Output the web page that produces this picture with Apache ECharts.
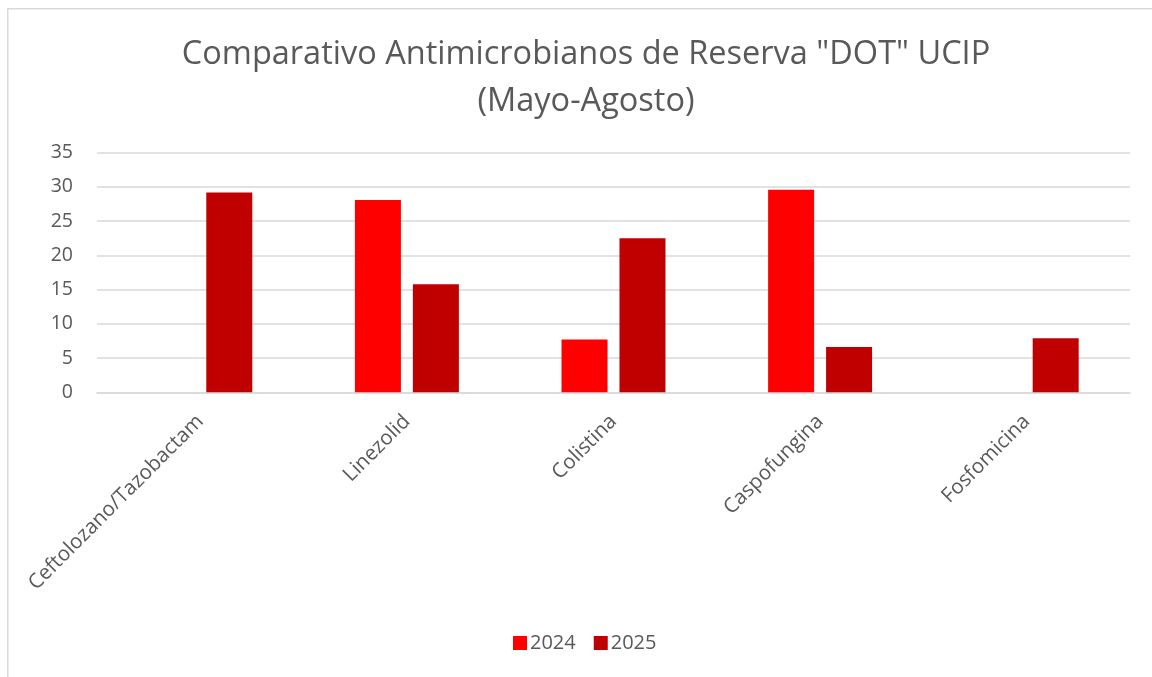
<!DOCTYPE html>
<html>
<head>
<meta charset="utf-8">
<script src="https://cdn.jsdelivr.net/npm/echarts@6/dist/echarts.min.js"></script>
<style>
html,body{margin:0;padding:0;background:#fff;}
#chart{width:1152px;height:677px;}
</style>
</head>
<body>
<div id="chart"></div>
<script>
const categories = ['Ceftolozano/Tazobactam', 'Linezolid', 'Colistina', 'Caspofungina', 'Fosfomicina'];
const seriesNames = ['2024', '2025'];
const values2024 = [0, 28.1, 7.7, 29.6, 0];
const values2025 = [29.2, 15.8, 22.5, 6.6, 7.9];
const titleLines = ['Comparativo Antimicrobianos de Reserva "DOT" UCIP', '(Mayo-Agosto)'];
const yTicks = { min: 0, max: 35, interval: 5 };

const FONT = 'Open Sans';
const TEXT = '#595959';
const chart = echarts.init(document.getElementById('chart'), null, { renderer: 'canvas' });
chart.setOption({
  animation: false,
  backgroundColor: '#ffffff',
  graphic: [{
    type: 'rect', left: 7, top: 8, z: -10,
    shape: { width: 1200, height: 720 },
    style: { fill: '#ffffff', stroke: '#d9d9d9', lineWidth: 1.5 }
  }],
  title: {
    text: titleLines.join('\n'),
    left: 581, top: 26, textAlign: 'center',
    textStyle: { fontFamily: FONT, fontSize: 32.5, fontWeight: 'normal', color: TEXT, lineHeight: 47 }
  },
  legend: {
    data: seriesNames,
    left: 508, top: 628,
    itemWidth: 14, itemHeight: 14, itemGap: 18,
    icon: 'rect',
    textStyle: { fontFamily: FONT, fontSize: 20, color: TEXT, padding: [0, 0, 0, -2] }
  },
  grid: { left: 97, right: 22, top: 152.7, bottom: 284.7, containLabel: false },
  xAxis: {
    type: 'category',
    data: categories,
    axisLine: { show: true, lineStyle: { color: '#d9d9d9', width: 1.5 } },
    axisTick: { show: false },
    axisLabel: { rotate: 45, margin: 26, interval: 0, fontFamily: FONT, fontSize: 20.5, color: TEXT }
  },
  yAxis: {
    type: 'value',
    min: yTicks.min, max: yTicks.max, interval: yTicks.interval,
    axisLine: { show: false },
    axisTick: { show: false },
    splitLine: { lineStyle: { color: '#d9d9d9', width: 1.5 } },
    axisLabel: { margin: 24, fontFamily: FONT, fontSize: 19.5, color: TEXT }
  },
  series: [
    { name: seriesNames[0], type: 'bar', data: values2024, barWidth: 46, barGap: '26%', itemStyle: { color: '#FF0000' } },
    { name: seriesNames[1], type: 'bar', data: values2025, barWidth: 46, barGap: '26%', itemStyle: { color: '#C00000' } }
  ]
});
</script>
</body>
</html>
